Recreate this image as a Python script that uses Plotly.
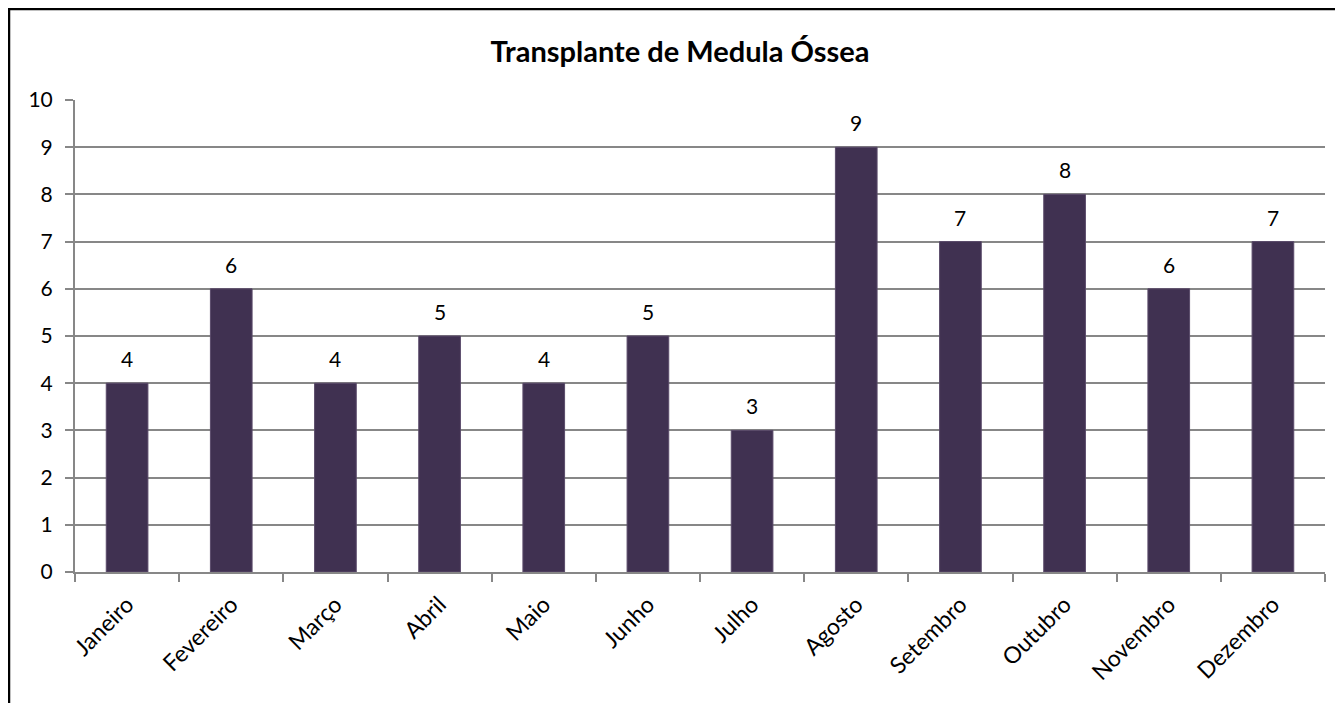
import plotly.graph_objects as go

months = ["Janeiro", "Fevereiro", "Março", "Abril", "Maio", "Junho",
          "Julho", "Agosto", "Setembro", "Outubro", "Novembro", "Dezembro"]
values = [4, 6, 4, 5, 4, 5, 3, 9, 7, 8, 6, 7]
y_ticks = list(range(0, 11))
title_text = "Transplante de Medula Óssea"

FONT = "Lato, Calibri, Carlito, sans-serif"
GRID = "#878787"
BAR = "#403151"

# page offset of the figure (browser body margin)
OFF = 8
W, H = 1343 - OFF, 703 - OFF
L, R, T, B = 75 - OFF, 18, 100 - OFF, 131
pw, ph = W - L - R, H - T - B


def px2paper_x(px):
    return (px - L) / pw


def px2paper_y(py):
    return (H - B - py) / ph


fig = go.Figure()
fig.add_trace(go.Bar(
    x=months, y=values,
    marker=dict(color=BAR, line=dict(color="#5a4a6a", width=1)),
    hoverinfo="x+y",
))

for m, v in zip(months, values):
    fig.add_annotation(x=m, y=v, text=str(v), showarrow=False,
                       xref="x", yref="y", yanchor="bottom", yshift=10,
                       font=dict(family=FONT, size=21, color="#000000"))

fig.add_shape(type="rect", xref="paper", yref="paper",
              x0=px2paper_x(1), x1=px2paper_x(1500),
              y0=px2paper_y(900), y1=px2paper_y(1),
              line=dict(color="#000000", width=2.5), fillcolor="rgba(0,0,0,0)",
              layer="below")

fig.update_layout(
    width=W, height=H,
    margin=dict(l=L, r=R, t=T, b=B),
    paper_bgcolor="white", plot_bgcolor="white",
    bargap=0.6,
    showlegend=False,
    title=dict(text="<b>" + title_text + "</b>", x=(680 - OFF) / W, xanchor="center",
               y=1 - (52 - OFF) / H, yanchor="middle",
               font=dict(family=FONT, size=29, color="#000000")),
    font=dict(family=FONT, color="#000000"),
    xaxis=dict(
        type="category", tickson="boundaries", ticks="outside", ticklen=8,
        tickcolor=GRID, tickwidth=2, showline=True, linecolor=GRID, linewidth=2,
        showgrid=False, tickangle=-45, ticklabelstandoff=8,
        tickfont=dict(family=FONT, size=23, color="#000"),
    ),
    yaxis=dict(
        range=[0, 10], tickvals=y_ticks, ticks="outside", ticklen=8,
        tickcolor=GRID, tickwidth=2, showline=True, linecolor=GRID, linewidth=2,
        showgrid=True, gridcolor=GRID, gridwidth=2, zeroline=False,
        ticklabelstandoff=8,
        tickfont=dict(family=FONT, size=21, color="#000"),
    ),
)

fig.write_html("out.html")
